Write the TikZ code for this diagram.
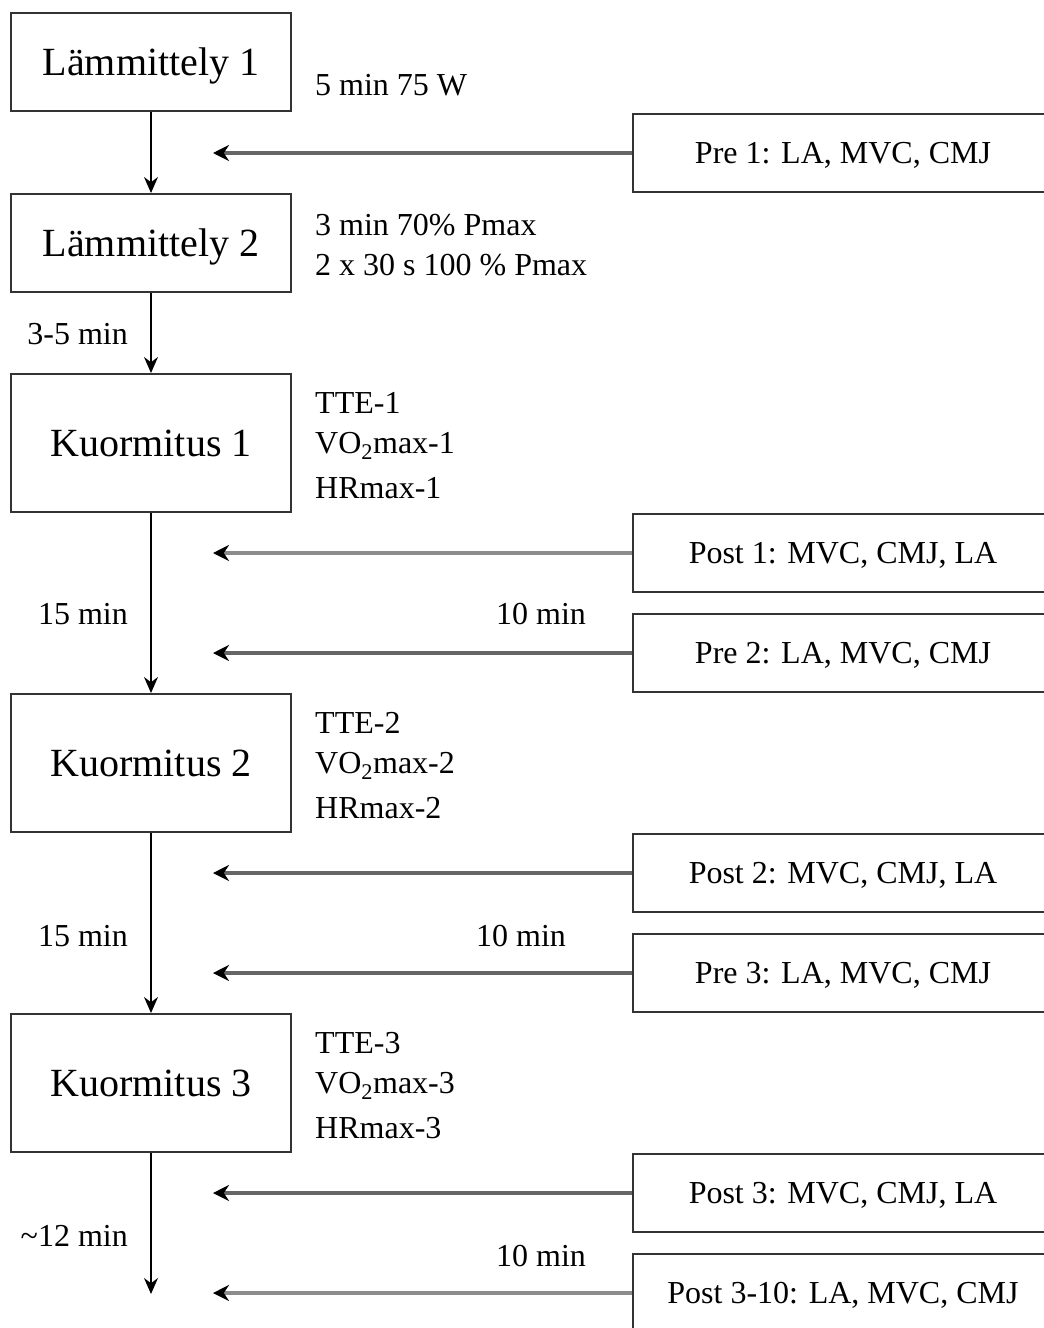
\documentclass[tikz,border=0pt]{standalone}
\usepackage{fontspec}
\setmainfont{Liberation Serif}
\usetikzlibrary{positioning,arrows.meta}

\tikzset{
  phase/.style={draw=black!80, line width=2pt, minimum width=280pt, minimum height=98pt,
    inner sep=0pt, text depth=0pt, font=\fontsize{40}{46}\selectfont},
  load/.style={phase, minimum height=138pt},
  test/.style={draw=black!80, line width=2pt, minimum width=420pt, minimum height=78pt,
    inner sep=0pt, text depth=0pt, font=\fontsize{32}{38}\selectfont},
  note/.style={anchor=base west, inner sep=0pt, font=\fontsize{32}{38}\selectfont},
  time/.style={inner sep=0pt, font=\fontsize{32}{38}\selectfont},
  flow/.style={-{Stealth[length=16pt,width=14pt]}, line width=1.5pt},
  feed/.style={-{Stealth[length=16pt,width=16pt,color=black]}, line width=3.5pt, draw=black!60},
}

\begin{document}
\begin{tikzpicture}[x=1pt,y=-1pt,on grid]
   \useasboundingbox (0,0) rectangle (1044,1328);
   \clip (0,0) rectangle (1044,1328);

   % left column
   \node[phase] (l1) at (151,62) {Lämmittely 1};
   \node[phase] (l2) [below=181pt of l1] {Lämmittely 2};
   \node[load]  (k1) [below=200pt of l2] {Kuormitus 1};
   \node[load]  (k2) [below=320pt of k1] {Kuormitus 2};
   \node[load]  (k3) [below=320pt of k2] {Kuormitus 3};
   \coordinate (end) at (151,1294);

   % right column
   \node[test] (pre1)   at (843,153) {Pre 1: LA, MVC, CMJ};
   \node[test] (post1)  [below=400pt of pre1]  {Post 1: MVC, CMJ, LA};
   \node[test] (pre2)   [below=100pt of post1] {Pre 2: LA, MVC, CMJ};
   \node[test] (post2)  [below=220pt of pre2]  {Post 2: MVC, CMJ, LA};
   \node[test] (pre3)   [below=100pt of post2] {Pre 3: LA, MVC, CMJ};
   \node[test] (post3)  [below=220pt of pre3]  {Post 3: MVC, CMJ, LA};
   \node[test] (post310)[below=100pt of post3] {Post 3-10: LA, MVC, CMJ};

   % arrow ends
   \coordinate (pre1 in)   at (213,153);
   \coordinate (post1 in)  at (213,553);
   \coordinate (pre2 in)   at (213,653);
   \coordinate (post2 in)  at (213,873);
   \coordinate (pre3 in)   at (213,973);
   \coordinate (post3 in)  at (213,1193);
   \coordinate (post310 in) at (213,1293);

   % notes
   \node[note] (n1)  at (315,95)  {5 min 75 W};
   \node[note] (n2a) at (315,235) {3 min 70\% Pmax};
   \node[note] (n2b) at (315,275) {2 x 30 s 100 \% Pmax};
   \node[note] (t1)  at (315,413) {TTE-1};
   \node[note] (v1)  at (315,453) {VO\textsubscript{2}max-1};
   \node[note] (h1)  at (315,498) {HRmax-1};
   \node[note] (t2)  at (315,733) {TTE-2};
   \node[note] (v2)  at (315,773) {VO\textsubscript{2}max-2};
   \node[note] (h2)  at (315,818) {HRmax-2};
   \node[note] (t3)  at (315,1053) {TTE-3};
   \node[note] (v3)  at (315,1093) {VO\textsubscript{2}max-3};
   \node[note] (h3)  at (315,1138) {HRmax-3};

   % times
   \node[time, anchor=base east] (w1) at (128,344)  {3-5 min};
   \node[time, anchor=base east] (w2) at (128,624)  {15 min};
   \node[time, anchor=base east] (w3) at (128,946)  {15 min};
   \node[time, anchor=base east] (w4) at (128,1246) {\textasciitilde12 min};
   \node[time, anchor=base] (r1) at (541,624)  {10 min};
   \node[time, anchor=base] (r2) at (521,946)  {10 min};
   \node[time, anchor=base] (r3) at (541,1266) {10 min};

   \draw[flow] (l1) -- (l2);
   \draw[flow] (l2) -- (k1);
   \draw[flow] (k1) -- (k2);
   \draw[flow] (k2) -- (k3);
   \draw[flow] (k3) -- (end);

   \draw[feed] (pre1) -- (pre1 in);
   \draw[feed, draw=black!45] (post1) -- (post1 in);
   \draw[feed] (pre2) -- (pre2 in);
   \draw[feed] (post2) -- (post2 in);
   \draw[feed] (pre3) -- (pre3 in);
   \draw[feed] (post3) -- (post3 in);
   \draw[feed, draw=black!45] (post310) -- (post310 in);
\end{tikzpicture}
\end{document}
